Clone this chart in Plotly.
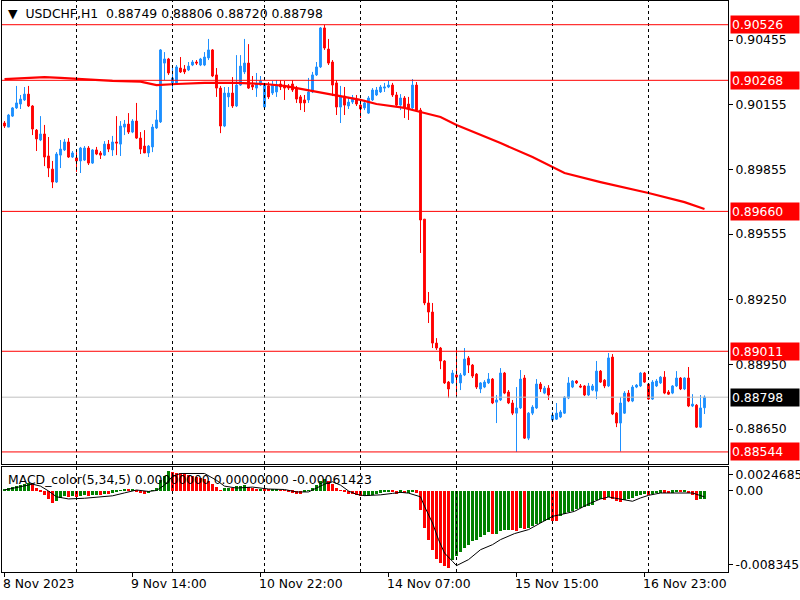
import plotly.graph_objects as go

# ---------------- data ----------------
bar_idx = list(range(176))

open_ = [0.90070, 0.90051, 0.90102, 0.90140, 0.90158, 0.90177, 0.90204, 0.90149, 0.90037, 0.89991,
         0.90019, 0.89917, 0.89856, 0.89796, 0.89921, 0.89945, 0.89982, 0.89912, 0.89908, 0.89894,
         0.89898, 0.89954, 0.89884, 0.89945, 0.89931, 0.89921, 0.89972, 0.89945, 0.89982, 0.89972,
         0.90051, 0.90065, 0.90028, 0.90079, 0.90000, 0.89963, 0.89931, 0.89959, 0.90047, 0.90075,
         0.90348, 0.90367, 0.90256, 0.90256, 0.90325, 0.90320, 0.90316, 0.90339, 0.90353, 0.90339,
         0.90339, 0.90372, 0.90409, 0.90293, 0.90232, 0.90056, 0.90191, 0.90209, 0.90149, 0.90246,
         0.90307, 0.90348, 0.90246, 0.90232, 0.90246, 0.90144, 0.90242, 0.90209, 0.90214, 0.90251,
         0.90242, 0.90242, 0.90251, 0.90232, 0.90191, 0.90177, 0.90177, 0.90214, 0.90293, 0.90330,
         0.90511, 0.90413, 0.90353, 0.90256, 0.90144, 0.90195, 0.90149, 0.90167, 0.90181, 0.90153,
         0.90140, 0.90116, 0.90177, 0.90200, 0.90214, 0.90232, 0.90237, 0.90246, 0.90200, 0.90153,
         0.90186, 0.90158, 0.90140, 0.90246, 0.90130, 0.89624, 0.89235, 0.89193, 0.89049, 0.89026,
         0.88966, 0.88868, 0.88864, 0.88901, 0.88864, 0.88901, 0.88980, 0.88947, 0.88905, 0.88836,
         0.88845, 0.88864, 0.88882, 0.88775, 0.88785, 0.88910, 0.88822, 0.88771, 0.88724, 0.88748,
         0.88887, 0.88608, 0.88724, 0.88748, 0.88859, 0.88817, 0.88840, 0.88692, 0.88696, 0.88706,
         0.88724, 0.88794, 0.88845, 0.88873, 0.88850, 0.88850, 0.88808, 0.88831, 0.88826, 0.88919,
         0.88877, 0.88850, 0.88984, 0.88724, 0.88678, 0.88724, 0.88817, 0.88780, 0.88845, 0.88850,
         0.88910, 0.88859, 0.88789, 0.88850, 0.88864, 0.88891, 0.88822, 0.88817, 0.88850, 0.88887,
         0.88836, 0.88887, 0.88757, 0.88761, 0.88659, 0.88749]

high = [0.90079, 0.90112, 0.90144, 0.90242, 0.90200, 0.90237, 0.90242, 0.90153, 0.90042, 0.90102,
        0.90061, 0.90005, 0.89894, 0.89935, 0.89991, 0.89996, 0.90000, 0.89940, 0.89935, 0.89959,
        0.89963, 0.89963, 0.89949, 0.89959, 0.89940, 0.89986, 0.89991, 0.90010, 0.90102, 0.90079,
        0.90084, 0.90116, 0.90088, 0.90163, 0.90028, 0.90037, 0.89968, 0.90065, 0.90130, 0.90413,
        0.90399, 0.90372, 0.90325, 0.90339, 0.90376, 0.90339, 0.90353, 0.90362, 0.90362, 0.90372,
        0.90399, 0.90460, 0.90413, 0.90325, 0.90242, 0.90237, 0.90237, 0.90283, 0.90385, 0.90385,
        0.90460, 0.90436, 0.90288, 0.90302, 0.90288, 0.90256, 0.90260, 0.90265, 0.90269, 0.90269,
        0.90265, 0.90251, 0.90269, 0.90242, 0.90200, 0.90200, 0.90279, 0.90307, 0.90353, 0.90515,
        0.90526, 0.90460, 0.90362, 0.90269, 0.90242, 0.90237, 0.90191, 0.90200, 0.90200, 0.90163,
        0.90177, 0.90195, 0.90232, 0.90237, 0.90246, 0.90256, 0.90265, 0.90256, 0.90214, 0.90204,
        0.90195, 0.90191, 0.90274, 0.90260, 0.90140, 0.89624, 0.89286, 0.89235, 0.89072, 0.89031,
        0.88970, 0.88873, 0.88924, 0.89017, 0.88910, 0.89026, 0.88989, 0.88952, 0.88910, 0.88868,
        0.88877, 0.88910, 0.88887, 0.88808, 0.88933, 0.88915, 0.88831, 0.88785, 0.88845, 0.88924,
        0.88901, 0.88729, 0.88761, 0.88882, 0.88868, 0.88850, 0.88854, 0.88729, 0.88771, 0.88738,
        0.88803, 0.88891, 0.88877, 0.88877, 0.88859, 0.88854, 0.88864, 0.88859, 0.88966, 0.88924,
        0.88882, 0.89003, 0.88998, 0.88729, 0.88799, 0.88826, 0.88831, 0.88854, 0.88859, 0.88915,
        0.88915, 0.88864, 0.88877, 0.88882, 0.88896, 0.88919, 0.88831, 0.88854, 0.88919, 0.88891,
        0.88891, 0.88938, 0.88812, 0.88766, 0.88808, 0.88806]

low = [0.90047, 0.90051, 0.90098, 0.90135, 0.90135, 0.90172, 0.90144, 0.90014, 0.89940, 0.89986,
       0.89870, 0.89819, 0.89768, 0.89792, 0.89861, 0.89940, 0.89908, 0.89908, 0.89843, 0.89838,
       0.89894, 0.89875, 0.89880, 0.89921, 0.89903, 0.89917, 0.89935, 0.89917, 0.89921, 0.89917,
       0.90014, 0.90019, 0.90023, 0.89996, 0.89926, 0.89931, 0.89912, 0.89935, 0.90042, 0.90070,
       0.90269, 0.90293, 0.90223, 0.90246, 0.90302, 0.90297, 0.90311, 0.90334, 0.90339, 0.90334,
       0.90334, 0.90362, 0.90283, 0.90191, 0.90023, 0.90051, 0.90144, 0.90140, 0.90144, 0.90242,
       0.90297, 0.90228, 0.90223, 0.90191, 0.90242, 0.90140, 0.90181, 0.90200, 0.90191, 0.90223,
       0.90177, 0.90223, 0.90214, 0.90163, 0.90130, 0.90121, 0.90163, 0.90209, 0.90288, 0.90325,
       0.90409, 0.90339, 0.90195, 0.90107, 0.90070, 0.90107, 0.90135, 0.90158, 0.90149, 0.90093,
       0.90130, 0.90112, 0.90172, 0.90195, 0.90209, 0.90214, 0.90232, 0.90191, 0.90144, 0.90130,
       0.90093, 0.90084, 0.90135, 0.90126, 0.89467, 0.89225, 0.89142, 0.89026, 0.89017, 0.88928,
       0.88859, 0.88794, 0.88859, 0.88799, 0.88831, 0.88896, 0.88910, 0.88887, 0.88836, 0.88817,
       0.88840, 0.88859, 0.88766, 0.88678, 0.88780, 0.88812, 0.88766, 0.88715, 0.88544, 0.88743,
       0.88604, 0.88599, 0.88715, 0.88743, 0.88822, 0.88812, 0.88785, 0.88687, 0.88692, 0.88701,
       0.88720, 0.88789, 0.88840, 0.88859, 0.88840, 0.88803, 0.88803, 0.88826, 0.88789, 0.88864,
       0.88840, 0.88845, 0.88715, 0.88659, 0.88546, 0.88720, 0.88775, 0.88775, 0.88840, 0.88845,
       0.88864, 0.88785, 0.88785, 0.88845, 0.88859, 0.88812, 0.88808, 0.88812, 0.88845, 0.88831,
       0.88831, 0.88752, 0.88752, 0.88655, 0.88655, 0.88720]

close = [0.90056, 0.90107, 0.90140, 0.90163, 0.90181, 0.90204, 0.90149, 0.90042, 0.89996, 0.90019,
         0.89912, 0.89861, 0.89796, 0.89926, 0.89949, 0.89982, 0.89912, 0.89931, 0.89894, 0.89954,
         0.89954, 0.89884, 0.89945, 0.89926, 0.89921, 0.89972, 0.89949, 0.89982, 0.89977, 0.90056,
         0.90065, 0.90028, 0.90079, 0.90000, 0.89949, 0.89931, 0.89963, 0.90051, 0.90084, 0.90409,
         0.90367, 0.90302, 0.90279, 0.90330, 0.90307, 0.90307, 0.90334, 0.90353, 0.90348, 0.90367,
         0.90376, 0.90409, 0.90288, 0.90232, 0.90056, 0.90209, 0.90209, 0.90149, 0.90246, 0.90334,
         0.90348, 0.90232, 0.90237, 0.90251, 0.90265, 0.90246, 0.90191, 0.90246, 0.90242, 0.90237,
         0.90232, 0.90232, 0.90223, 0.90181, 0.90163, 0.90163, 0.90214, 0.90293, 0.90330, 0.90511,
         0.90418, 0.90348, 0.90246, 0.90144, 0.90195, 0.90153, 0.90167, 0.90186, 0.90158, 0.90135,
         0.90163, 0.90186, 0.90223, 0.90223, 0.90237, 0.90237, 0.90246, 0.90200, 0.90153, 0.90186,
         0.90144, 0.90140, 0.90246, 0.90130, 0.89620, 0.89235, 0.89193, 0.89049, 0.89026, 0.88966,
         0.88864, 0.88836, 0.88910, 0.88891, 0.88901, 0.88975, 0.88947, 0.88896, 0.88845, 0.88864,
         0.88868, 0.88882, 0.88771, 0.88785, 0.88910, 0.88817, 0.88771, 0.88724, 0.88748, 0.88882,
         0.88608, 0.88724, 0.88752, 0.88859, 0.88836, 0.88840, 0.88808, 0.88715, 0.88724, 0.88729,
         0.88798, 0.88864, 0.88873, 0.88864, 0.88845, 0.88808, 0.88850, 0.88850, 0.88919, 0.88868,
         0.88850, 0.88980, 0.88720, 0.88678, 0.88771, 0.88817, 0.88780, 0.88845, 0.88854, 0.88910,
         0.88868, 0.88789, 0.88868, 0.88873, 0.88891, 0.88817, 0.88812, 0.88850, 0.88887, 0.88836,
         0.88887, 0.88757, 0.88766, 0.88659, 0.88748, 0.88798]

# 200-period moving average (read at selected bars)
ma_idx = [0, 5, 10, 14, 18, 22, 27, 34, 37, 38, 43, 50, 58, 65, 70, 74, 79, 84, 89, 93, 98,
          100, 104, 109, 113, 118, 124, 132, 137, 140, 149, 161, 170, 175]
ma_val = [0.90274, 0.90279, 0.90283, 0.90279, 0.90274, 0.90269, 0.90265, 0.90262, 0.90251,
          0.90246, 0.90251, 0.90256, 0.90256, 0.90251, 0.90242, 0.90228, 0.90209, 0.90191,
          0.90177, 0.90158, 0.90144, 0.90140, 0.90121, 0.90098, 0.90061, 0.90023, 0.89977,
          0.89912, 0.89866, 0.89838, 0.89796, 0.89745, 0.89703, 0.89671]

# MACD_color(5,34,5) histogram
macd_hist = [0.00017, 0.00027, 0.00038, 0.00051, 0.00062, 0.00072, 0.00079, 0.00069, 0.00034, -0.00007,
             -0.00041, -0.00082, -0.00127, -0.00103, -0.00069, -0.00055, -0.00062, -0.00055, -0.00065, -0.00051,
             -0.00041, -0.00055, -0.00041, -0.00038, -0.00041, -0.00027, -0.00030, -0.00017, -0.00014, 0.00010,
             0.00021, 0.00014, 0.00021, -0.00003, -0.00021, -0.00031, -0.00024, 0.00007, 0.00034, 0.00113,
             0.00158, 0.00205, 0.00200, 0.00189, 0.00182, 0.00172, 0.00165, 0.00158, 0.00148, 0.00137,
             0.00124, 0.00103, 0.00069, 0.00041, 0.00010, 0.00027, 0.00034, 0.00030, 0.00048, 0.00055,
             0.00058, 0.00041, 0.00027, 0.00021, 0.00024, 0.00021, 0.00014, 0.00017, 0.00021, 0.00010,
             0.00007, -0.00007, -0.00017, -0.00027, -0.00030, -0.00014, 0.00007, 0.00034, 0.00062, 0.00103,
             0.00124, 0.00103, 0.00069, 0.00027, 0.00007, -0.00014, -0.00027, -0.00034, -0.00041, -0.00055,
             -0.00052, -0.00048, -0.00041, -0.00027, -0.00017, -0.00010, -0.00007, -0.00014, -0.00027, -0.00020,
             -0.00025, -0.00020, -0.00010, -0.00018, -0.00193, -0.00378, -0.00509, -0.00612, -0.00697, -0.00742,
             -0.00776, -0.00793, -0.00715, -0.00673, -0.00632, -0.00587, -0.00553, -0.00518, -0.00501, -0.00474,
             -0.00450, -0.00426, -0.00445, -0.00438, -0.00410, -0.00400, -0.00398, -0.00405, -0.00408, -0.00385,
             -0.00395, -0.00380, -0.00365, -0.00340, -0.00325, -0.00310, -0.00300, -0.00305, -0.00308, -0.00255,
             -0.00240, -0.00220, -0.00205, -0.00190, -0.00178, -0.00168, -0.00152, -0.00140, -0.00095, -0.00085,
             -0.00088, -0.00065, -0.00080, -0.00105, -0.00110, -0.00090, -0.00080, -0.00068, -0.00055, -0.00040,
             -0.00030, -0.00040, -0.00032, -0.00024, -0.00017, -0.00020, -0.00022, -0.00017, -0.00008, -0.00012,
             -0.00006, -0.00025, -0.00038, -0.00090, -0.00085, -0.00080]

# signal line (read at selected bars)
sig_idx = [0, 4, 7, 9, 11, 13, 16, 20, 24, 27, 30, 33, 36, 38, 40, 42, 44, 50, 53, 55, 58, 62, 66,
           70, 73, 76, 78, 80, 82, 84, 86, 88, 90, 94, 97, 99, 101, 104, 105, 107, 108.5, 110, 112,
           113, 116, 119, 122, 124, 127.5, 131, 134, 137, 139, 142.5, 146, 149, 151, 154, 157, 159,
           161, 164, 168, 172, 175]
sig_val = [0.00010, 0.00045, 0.00070, 0.00050, 0.00000, -0.00060, -0.00082, -0.00075, -0.00065,
           -0.00050, -0.00020, 0.00010, -0.00005, 0.00005, 0.00060, 0.00150, 0.00180, 0.00180,
           0.00110, 0.00050, 0.00030, 0.00040, 0.00020, 0.00015, -0.00010, -0.00010, 0.00030,
           0.00070, 0.00095, 0.00060, 0.00000, -0.00035, -0.00048, -0.00040, -0.00025, -0.00014,
           -0.00022, -0.00060, -0.00158, -0.00330, -0.00501, -0.00639, -0.00725, -0.00769,
           -0.00707, -0.00605, -0.00553, -0.00501, -0.00439, -0.00398, -0.00330, -0.00261,
           -0.00244, -0.00210, -0.00134, -0.00082, -0.00062, -0.00082, -0.00106, -0.00072,
           -0.00045, -0.00021, -0.00021, -0.00021, -0.00061]

price_ticks = [0.90455, 0.90155, 0.89855, 0.89555, 0.89250, 0.88950, 0.88650]
level_lines = [0.90526, 0.90268, 0.89660, 0.89011, 0.88544]
last_price = 0.88798
time_tick_idx = [0, 32, 64, 96, 128, 160]
time_tick_text = ["8 Nov 2023", "9 Nov 14:00", "10 Nov 22:00", "14 Nov 07:00", "15 Nov 15:00", "16 Nov 23:00"]
grid_idx = [18, 42, 65, 89, 113, 137, 161]
macd_tick_vals = [0.00168, 0.0, -0.00759]
macd_tick_text = ["0.0024685", "0.00", "-0.0083451"]

# ---------------- figure ----------------
FONT = "DejaVu Sans"
FS = 12.4
BLUE = "#1E90FF"
RED = "#FF0000"

hist_colors = []
prev = None
for v in macd_hist:
    hist_colors.append("#008000" if (prev is None or v >= prev) else RED)
    prev = v

fig = go.Figure()
fig.add_trace(go.Candlestick(
    x=bar_idx, open=open_, high=high, low=low, close=close,
    increasing=dict(line=dict(color=BLUE, width=1), fillcolor=BLUE),
    decreasing=dict(line=dict(color=RED, width=1), fillcolor=RED),
    whiskerwidth=0, xaxis="x", yaxis="y", hoverinfo="skip"))
fig.add_trace(go.Scatter(x=ma_idx, y=ma_val, mode="lines",
                         line=dict(color=RED, width=2.2), xaxis="x", yaxis="y"))
fig.add_trace(go.Bar(x=bar_idx, y=macd_hist, marker=dict(color=hist_colors, line=dict(width=0)),
                     width=0.75, xaxis="x2", yaxis="y2"))
fig.add_trace(go.Scatter(x=sig_idx, y=sig_val, mode="lines",
                         line=dict(color="black", width=1), xaxis="x2", yaxis="y2"))

top_px, bot_px = 1, 572
H = bot_px - top_px
L_PX, R_PX = 2, 728
W = R_PX - L_PX
main_dom = [(bot_px - 464) / H, 1.0]
macd_dom = [0.0, (bot_px - 467) / H]

def py(px):
    return (bot_px - px) / H

def pxx(px):
    return (px - L_PX) / W

xr = [-0.625, 180.875]
common_axis = dict(showgrid=False, zeroline=False, showline=True, mirror=True,
                   linecolor="black", linewidth=1, automargin=False)

fig.update_layout(
    template="none",
    width=800, height=600,
    margin=dict(l=L_PX, r=800 - R_PX, t=top_px, b=600 - bot_px, pad=0, autoexpand=False),
    paper_bgcolor="white", plot_bgcolor="white",
    showlegend=False, bargap=0,
    boxgap=0.35,
    font=dict(family=FONT, size=FS, color="black"),
    xaxis=dict(domain=[0, 1], range=xr, anchor="y", showticklabels=False, ticks="",
               rangeslider=dict(visible=False), **common_axis),
    xaxis2=dict(domain=[0, 1], range=xr, anchor="y2", matches="x", showticklabels=False,
                tickvals=time_tick_idx, ticks="outside", ticklen=4, tickcolor="black", **common_axis),
    yaxis=dict(domain=main_dom, range=[0.88488, 0.90636], side="right", anchor="x",
               tickvals=price_ticks, ticktext=[f"{v:.5f}" for v in price_ticks],
               ticks="outside", ticklen=4, tickcolor="black", **common_axis),
    yaxis2=dict(domain=macd_dom, range=[-0.0083451, 0.0024685], side="right", anchor="x2",
                tickvals=macd_tick_vals, ticktext=macd_tick_text,
                ticks="outside", ticklen=4, tickcolor="black", **common_axis),
)

shapes = []
for g in grid_idx:
    shapes.append(dict(type="line", xref="x", yref="paper", x0=g, x1=g, y0=main_dom[0], y1=1,
                       line=dict(color="black", width=1, dash="dot")))
    shapes.append(dict(type="line", xref="x", yref="paper", x0=g, x1=g, y0=0, y1=macd_dom[1],
                       line=dict(color="black", width=1, dash="dot")))
for lv in level_lines:
    shapes.append(dict(type="line", xref="paper", yref="y", x0=0, x1=1, y0=lv, y1=lv,
                       line=dict(color=RED, width=1)))
shapes.append(dict(type="line", xref="paper", yref="y", x0=0, x1=1, y0=last_price, y1=last_price,
                   line=dict(color="#C0C0C0", width=1)))
fig.update_layout(shapes=shapes)

ann = []
ann.append(dict(xref="paper", yref="paper", x=pxx(6), y=py(14), xanchor="left", yanchor="middle",
                text="\u25BC\u00a0\u00a0USDCHF,H1\u00a0\u00a00.88749 0.88806 0.88720 0.88798",
                showarrow=False, font=dict(family=FONT, size=FS, color="black")))
ann.append(dict(xref="paper", yref="paper", x=pxx(6), y=py(479), xanchor="left", yanchor="middle",
                text="MACD_color(5,34,5) 0.00000000 0.00000000 -0.00061423",
                showarrow=False, font=dict(family=FONT, size=FS, color="black")))
for ti, tt in zip(time_tick_idx, time_tick_text):
    ann.append(dict(xref="paper", yref="paper", x=pxx(4 + 4 * ti - 3), y=py(583),
                    xanchor="left", yanchor="middle",
                    text=tt, showarrow=False, font=dict(family=FONT, size=FS, color="black")))
box_x = pxx(730)
for lv in level_lines:
    ann.append(dict(xref="paper", yref="y", x=box_x, y=lv, xanchor="left", yanchor="middle",
                    text=f"{lv:.5f}", showarrow=False, bgcolor=RED, width=66, height=15,
                    align="left", borderpad=1,
                    font=dict(family=FONT, size=FS, color="white")))
ann.append(dict(xref="paper", yref="y", x=box_x, y=last_price, xanchor="left", yanchor="middle",
                text=f"{last_price:.5f}", showarrow=False, bgcolor="black", width=66, height=15,
                align="left", borderpad=1,
                font=dict(family=FONT, size=FS, color="white")))
fig.update_layout(annotations=ann)

fig.write_html("out.html", config={"displayModeBar": False},
               post_script="document.body.style.margin='0px';document.body.style.overflow='hidden';")
